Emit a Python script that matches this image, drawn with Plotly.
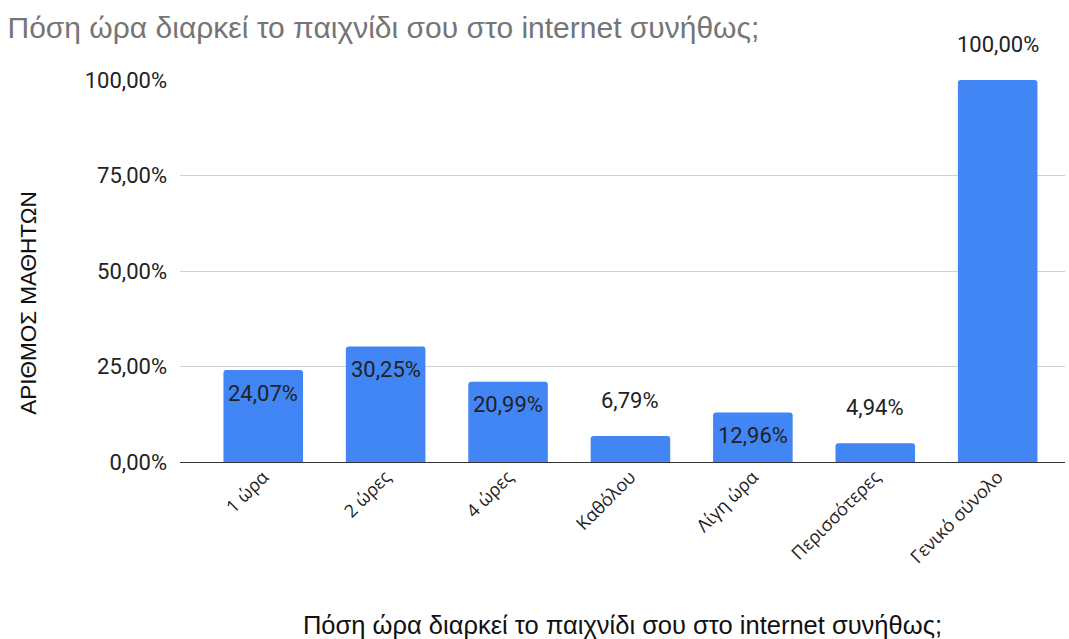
import plotly.graph_objects as go

categories = ["1 ώρα", "2 ώρες", "4 ώρες", "Καθόλου", "Λίγη ώρα", "Περισσότερες", "Γενικό σύνολο"]
values = [24.07, 30.25, 20.99, 6.79, 12.96, 4.94, 100.00]
label_inside = [True, True, True, False, True, False, False]
y_ticks = [0, 25, 50, 75, 100]

question = "Πόση ώρα διαρκεί το παιχνίδι σου στο internet συνήθως;"


def pct(v):
    return f"{v:.2f}".replace(".", ",") + "%"


fig = go.Figure(
    go.Bar(
        x=categories,
        y=values,
        width=0.65,
        marker=dict(color="#4285F4", cornerradius=3, line=dict(width=0)),
        hoverinfo="skip",
    )
)

# value labels: inside the top of tall bars, above the short ones
for cat, v, inside in zip(categories, values, label_inside):
    fig.add_annotation(
        x=cat, y=v, text=pct(v), showarrow=False,
        yanchor="middle", yshift=-23 if inside else 36,
        font=dict(family="Roboto", size=22, color="#222222"),
    )

# vertical axis title
fig.add_annotation(
    xref="paper", yref="paper", x=-0.172, y=0.416,
    text="ΑΡΙΘΜΟΣ ΜΑΘΗΤΩΝ", textangle=-90, showarrow=False,
    xanchor="center", yanchor="middle",
    font=dict(family="Liberation Sans", size=22.5, color="#111111"),
)

fig.update_layout(
    width=1069, height=639,
    margin=dict(l=180, r=4, t=80, b=177),
    plot_bgcolor="white", paper_bgcolor="white",
    showlegend=False,
    title=dict(
        text=question, x=0.007, xanchor="left", y=0.957, yanchor="middle",
        font=dict(family="Liberation Sans", size=30, color="#757575"),
    ),
    xaxis=dict(
        range=[-0.68, 6.55], tickangle=-45, showgrid=False, automargin=False,
        tickfont=dict(family="Open Sans", size=18, color="#222222"),
        title=dict(text=question, standoff=49,
                   font=dict(family="Liberation Sans", size=25.5, color="#111111")),
        showline=False, zeroline=False,
    ),
    yaxis=dict(
        range=[0, 100], tickvals=y_ticks, ticktext=[pct(t) for t in y_ticks],
        showgrid=True, gridcolor="#d0d0d0", gridwidth=1, automargin=False,
        zeroline=True, zerolinecolor="#333333", zerolinewidth=1,
        ticklabelstandoff=12,
        tickfont=dict(family="Roboto", size=22, color="#222222"),
    ),
)

fig.write_html("out.html")
